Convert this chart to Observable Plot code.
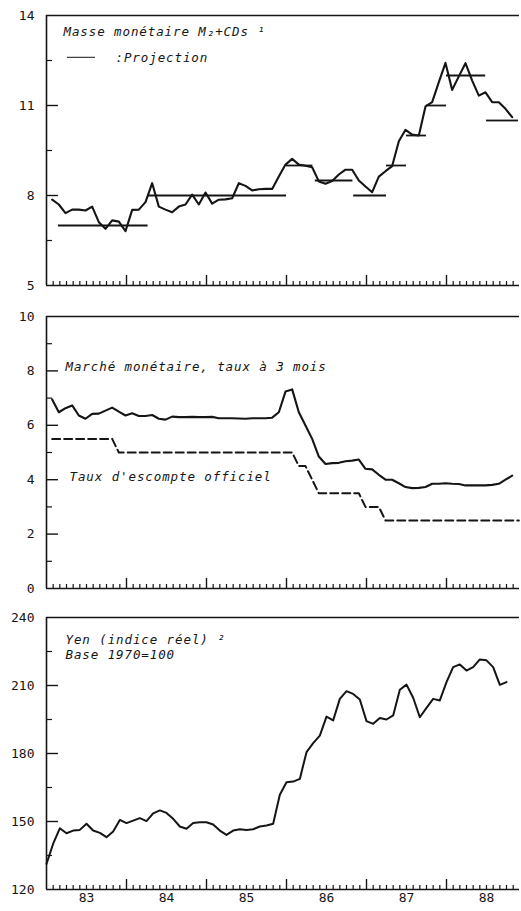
<!DOCTYPE html>
<html><head><meta charset="utf-8">
<script src="https://cdn.jsdelivr.net/npm/d3@7"></script>
<script src="https://cdn.jsdelivr.net/npm/@observablehq/plot@0.6"></script>
<style>
body{margin:0;background:#fff}
#c svg{display:block}
#c svg g[aria-label="text"]{letter-spacing:0.9px}
</style>
</head><body><div id="c"></div>
<script>
// ---------- data ----------
const years = [1983, 1984, 1985, 1986, 1987, 1988];
const yearLabels = ["83", "84", "85", "86", "87", "88"];

// Panel 1: Masse monétaire M2+CDs (monthly, from Jan 1983)
const m2Start = 1983 + 0.85 / 12;
const m2Growth = [7.86,7.70,7.41,7.53,7.53,7.50,7.63,7.11,6.89,7.17,7.13,6.81,
  7.52,7.53,7.78,8.41,7.63,7.53,7.44,7.63,7.70,8.03,7.70,8.10,
  7.73,7.86,7.87,7.91,8.41,8.32,8.17,8.21,8.22,8.22,8.63,9.03,
  9.22,9.03,8.99,8.94,8.47,8.39,8.48,8.70,8.86,8.86,8.50,8.30,
  8.11,8.63,8.81,8.98,9.81,10.19,10.03,10.00,10.97,11.11,11.78,12.42,
  11.52,11.97,12.41,11.83,11.33,11.44,11.11,11.11,10.89,10.61];
const projStart = [1983.15, 1984.27, 1986.0, 1986.36, 1986.84, 1987.25, 1987.5, 1987.75, 1988.0, 1988.5];
const projEnd   = [1984.27, 1986.0, 1986.33, 1986.83, 1987.25, 1987.5, 1987.75, 1988.0, 1988.49, 1988.9];
const projValue = [7, 8, 9, 8.5, 8, 9, 10, 11, 12, 10.5];
const m2Labels = [5, 8, 11, 14];
const m2Minor = [6.5, 9.5, 12.5];

// Panel 2: Marché monétaire, taux à 3 mois; Taux d'escompte officiel
const rateStart = 1983 + 0.85 / 12;
const callRate = [6.95,6.48,6.63,6.73,6.36,6.24,6.42,6.43,6.54,6.65,6.50,6.36,
  6.44,6.34,6.34,6.38,6.24,6.21,6.32,6.30,6.30,6.31,6.30,6.30,
  6.31,6.26,6.26,6.26,6.25,6.24,6.26,6.26,6.26,6.28,6.48,7.24,
  7.32,6.48,5.99,5.50,4.85,4.58,4.61,4.62,4.68,4.70,4.74,4.40,
  4.38,4.18,4.00,4.00,3.87,3.73,3.69,3.70,3.73,3.85,3.85,3.87,
  3.85,3.84,3.79,3.79,3.79,3.79,3.81,3.85,4.00,4.15];
const discountRate = [5.5,5.5,5.5,5.5,5.5,5.5,5.5,5.5,5.5,5.5,
  5,5,5,5,5,5,5,5,5,5,5,5,5,5,5,5,5,5,5,5,5,5,5,5,5,5,5,
  4.5,4.5,4.0,3.5,3.5,3.5,3.5,3.5,3.5,3.5,3,3,3,
  2.5,2.5,2.5,2.5,2.5,2.5,2.5,2.5,2.5,2.5,2.5,2.5,2.5,2.5,2.5,2.5,2.5,2.5,2.5,2.5,2.5];
const rateLabels = [0, 2, 4, 6, 8, 10];
const rateMinor = [1, 3, 5, 7, 9];

// Panel 3: Yen (indice réel), base 1970=100
const yenStart = 1983;
const yenIndex = [131.3,140.2,147.0,144.8,146.0,146.3,149.0,146.0,145.0,143.1,145.6,150.7,
  149.3,150.4,151.5,150.2,153.6,154.9,153.8,151.2,147.8,146.8,149.3,149.7,
  149.7,148.7,146.0,144.1,146.0,146.6,146.3,146.6,147.8,148.2,149.0,161.8,
  167.3,167.6,168.8,180.6,184.6,187.9,196.3,194.6,204.1,207.5,206.3,203.8,
  194.3,193.1,195.7,195.0,196.8,208.1,210.4,204.6,196.0,200.1,204.1,203.4,
  211.5,218.1,219.3,216.6,218.1,221.5,221.1,218.1,210.3,211.5];
const yenLabels = [120, 150, 180, 210, 240];
const yenMinor = [135, 165, 195, 225];

// ---------- drawing ----------
const W = 521, ML = 46, MR = 2;
const INK = "#151515";
const FONT = "'DejaVu Sans Mono', 'Liberation Mono', monospace";
const xDomain = [1983, 1988.9125];
const monthTicks = d3.range(1, 72).map(i => 1983 + i / 12).filter(d => d < xDomain[1] && !years.includes(Math.round(d * 1000) / 1000));
const yearTicks = years.slice(1);
const yearMid = years.map(y => y + 0.5);
const series = (vals, start) => vals.map((v, i) => ({t: start + i / 12, v}));

function label(txt, dx, dy) {
  return Plot.text([txt], {text: d => d, frameAnchor: "top-left", dx, dy, textAnchor: "start",
    lineAnchor: "middle", fontStyle: "italic", fontSize: 12.5, fill: INK});
}

function panel(o) {
  const innerH = o.height - o.marginTop - o.marginBottom;
  const innerW = W - ML - MR;
  const [y0, y1] = o.yDomain;
  const x0 = xDomain[0];
  const pxY = (y1 - y0) / innerH;                 // data units per pixel (y)
  const pxX = (xDomain[1] - xDomain[0]) / innerW; // data units per pixel (x)
  return Plot.plot({
    width: W, height: o.height, marginLeft: ML, marginRight: MR,
    marginTop: o.marginTop, marginBottom: o.marginBottom,
    style: {fontFamily: FONT, fontSize: "13px", color: INK, background: "#fff", overflow: "visible"},
    x: {domain: xDomain, axis: null},
    y: {domain: o.yDomain, axis: null},
    marks: [
      Plot.axisY({ticks: o.yLabels, tickSize: 0, tickPadding: 12, tickFormat: d => String(d), fontSize: 13, fill: INK, label: null}),
      Plot.ruleX([x0], {stroke: INK, strokeWidth: 1.6}),
      Plot.ruleY([y0], {stroke: INK, strokeWidth: 1.6}),
      Plot.ruleY([y1], {stroke: INK, strokeWidth: 1.3}),
      Plot.ruleX(monthTicks, {x: d => d, y1: y0, y2: y0 + 4 * pxY, stroke: INK, strokeWidth: 1.2}),
      Plot.ruleX(yearTicks, {x: d => d, y1: y0, y2: y0 + 10 * pxY, stroke: INK, strokeWidth: 1.4}),
      Plot.ruleY(o.yLabels.filter(d => d !== y0 && d !== y1), {y: d => d, x1: x0, x2: x0 + 12 * pxX, stroke: INK, strokeWidth: 1.4}),
      Plot.ruleY(o.yMinor, {y: d => d, x1: x0, x2: x0 + 6 * pxX, stroke: INK, strokeWidth: 1.2}),
      ...o.marks,
      ...(o.xLabels ? [Plot.axisX({ticks: yearMid, tickSize: 0, tickPadding: 3, label: null,
        tickFormat: d => yearLabels[years.indexOf(Math.floor(d))], fontSize: 13, fill: INK})] : [])
    ]
  });
}

const c = document.getElementById("c");

// Panel 1
const proj = projValue.map((v, i) => ({v, t1: projStart[i], t2: projEnd[i]}));
c.appendChild(panel({
  height: 295, marginTop: 15, marginBottom: 10,
  yDomain: [5, 14], yLabels: m2Labels, yMinor: m2Minor,
  marks: [
    Plot.ruleY(proj, {y: "v", x1: "t1", x2: "t2", stroke: INK, strokeWidth: 1.8}),
    Plot.line(series(m2Growth, m2Start), {x: "t", y: "v", stroke: INK, strokeWidth: 2.1}),
    label("Masse monétaire M₂+CDs ¹", 17, 16),
    label(":Projection", 69, 42),
    (index, scales, values, dims) => d3.create("svg:line")
      .attr("x1", dims.marginLeft + 21).attr("x2", dims.marginLeft + 49)
      .attr("y1", dims.marginTop + 42.3).attr("y2", dims.marginTop + 42.3)
      .attr("stroke", INK).attr("stroke-width", 1).node()
  ]
}));

// Panel 2
c.appendChild(panel({
  height: 305, marginTop: 21, marginBottom: 12,
  yDomain: [0, 10], yLabels: rateLabels, yMinor: rateMinor,
  marks: [
    Plot.line(series(discountRate, rateStart), {x: "t", y: "v", stroke: INK, strokeWidth: 2, strokeDasharray: "8,4"}),
    Plot.line(series(callRate, rateStart), {x: "t", y: "v", stroke: INK, strokeWidth: 2.1}),
    label("Marché monétaire, taux à 3 mois", 19, 50),
    label("Taux d'escompte officiel", 23, 160)
  ]
}));

// Panel 3
c.appendChild(panel({
  height: 311, marginTop: 17, marginBottom: 22,
  yDomain: [120, 240], yLabels: yenLabels, yMinor: yenMinor, xLabels: true,
  marks: [
    Plot.line(series(yenIndex, yenStart), {x: "t", y: "v", stroke: INK, strokeWidth: 2}),
    label("Yen (indice réel) ²", 19, 22),
    label("Base 1970=100", 19, 37.5)
  ]
}));
</script>
</body></html>
